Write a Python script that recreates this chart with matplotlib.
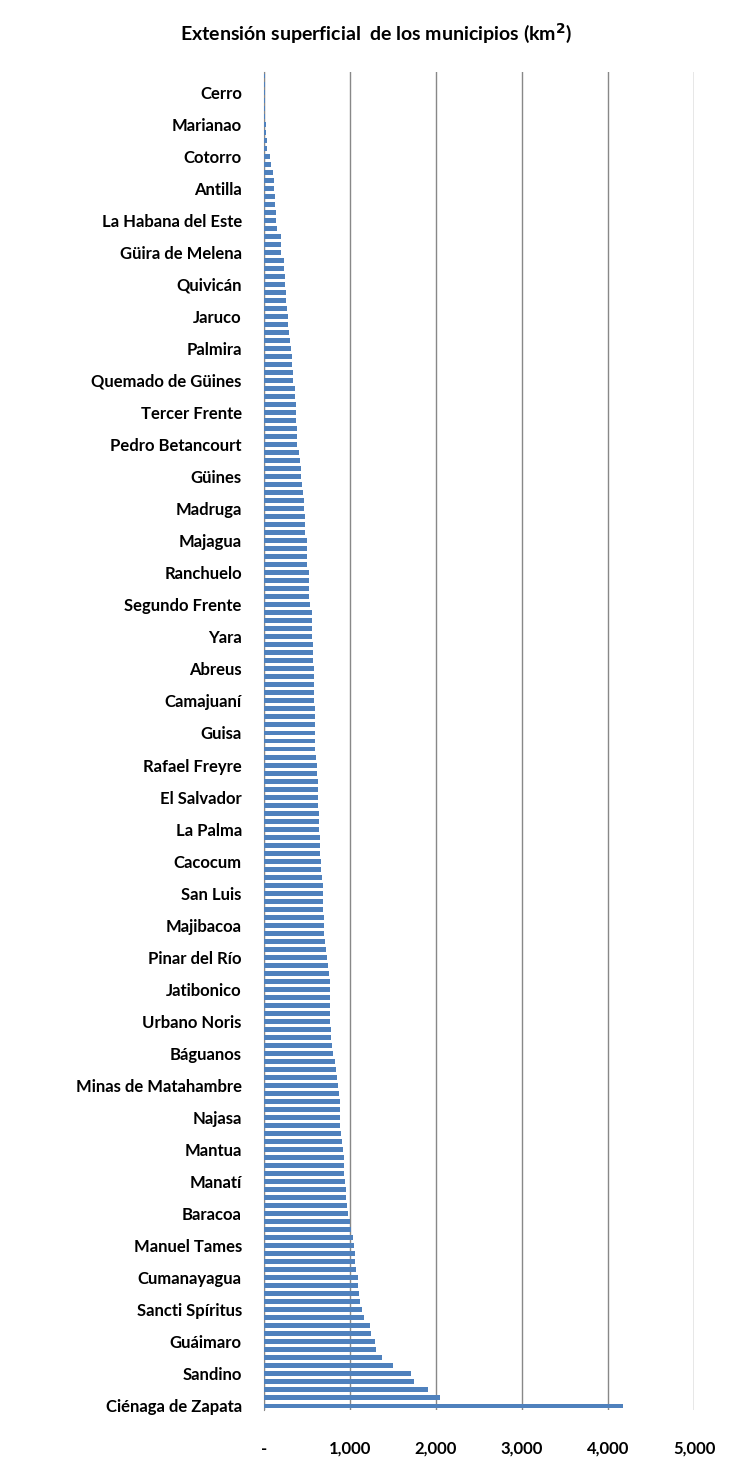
import matplotlib
matplotlib.use("Agg")
import matplotlib.pyplot as plt
import numpy as np

# areas (km2), top-to-bottom as displayed
values = ([16,16,16,16,16,16,27,27,39,39,74,85,109,120,120,132,132,143,143,155,202,202,202,236,236,248,248,260,260,271,283,283,295,306,318,329,329,341,341,364,364,376]
 + [376,376,388,388,388,411,422,434,434,446,457,469,469,481,481,481,504,504,504,504,527,527,527,527,539,562,562,562,562,574,574,574,585,585,585,585,585,597,597,597,597,597]
 + [597,609,620,620,632,632,632,632,643,643,643,655,655,655,667,667,678,690,690,690,690,702,702,702,713,725,736,748,760,771,771,771,771,771,771,783,783,795,806,829,841]
 + [853,864,876,888,888,888,888,899,911,922,934,934,934,946,957,957,969,981,996,1016,1039,1050,1062,1062,1074,1097,1097,1109,1120,1143,1167,1236,1248,1295,1306,1376,1504,1713,1748,1911,2050,4170])

# labels shown on every 4th bar (top-to-bottom), starting at bar index 2
shown_labels = ["Cerro","Marianao","Cotorro","Antilla","La Habana del Este","Güira de Melena","Quivicán","Jaruco",
 "Palmira","Quemado de Güines","Tercer Frente","Pedro Betancourt","Güines","Madruga","Majagua","Ranchuelo",
 "Segundo Frente","Yara","Abreus","Camajuaní","Guisa","Rafael Freyre","El Salvador","La Palma","Cacocum",
 "San Luis","Majibacoa","Pinar del Río","Jatibonico","Urbano Noris","Báguanos","Minas de Matahambre","Najasa",
 "Mantua","Manatí","Baracoa","Manuel Tames","Cumanayagua","Sancti Spíritus","Guáimaro","Sandino","Ciénaga de Zapata"]

x_ticks = [0, 1000, 2000, 3000, 4000, 5000]
x_ticklabels = ["-", "1,000", "2,000", "3,000", "4,000", "5,000"]

n = len(values)
fig = plt.figure(figsize=(7.52, 14.73), dpi=100)
ax = fig.add_axes([264/752, 1-1410/1473, (694-264)/752, (1410-72)/1473])
pos = np.arange(n)
ax.barh(pos, values, height=0.62, color="#4F81BD", zorder=3)
ax.set_ylim(n-0.5, -0.5)
ax.set_xlim(0, 5000)
lab_pos = [2 + 4*i for i in range(len(shown_labels))]
ax.set_yticks(lab_pos)
ax.set_yticklabels(shown_labels, fontsize=12, fontweight="bold", family="Lato")
ax.set_xticks(x_ticks)
ax.set_xticklabels(x_ticklabels, fontsize=12, fontweight="bold", family="Lato")
ax.tick_params(axis="y", length=0, pad=16)
ax.tick_params(axis="x", length=0, pad=22)
ax.grid(axis="x", color="#888888", linewidth=1, zorder=0)
for s in ["top", "right", "bottom"]:
    ax.spines[s].set_visible(False)
ax.spines["left"].set_color("#888888")
fig.text(0.5, 1-33/1473, "Extensión superficial  de los municipios (km$^\\mathbf{2}$)", ha="center", va="center",
         fontsize=14, fontweight="bold", family="Lato")
fig.savefig("out.png", dpi=100)
